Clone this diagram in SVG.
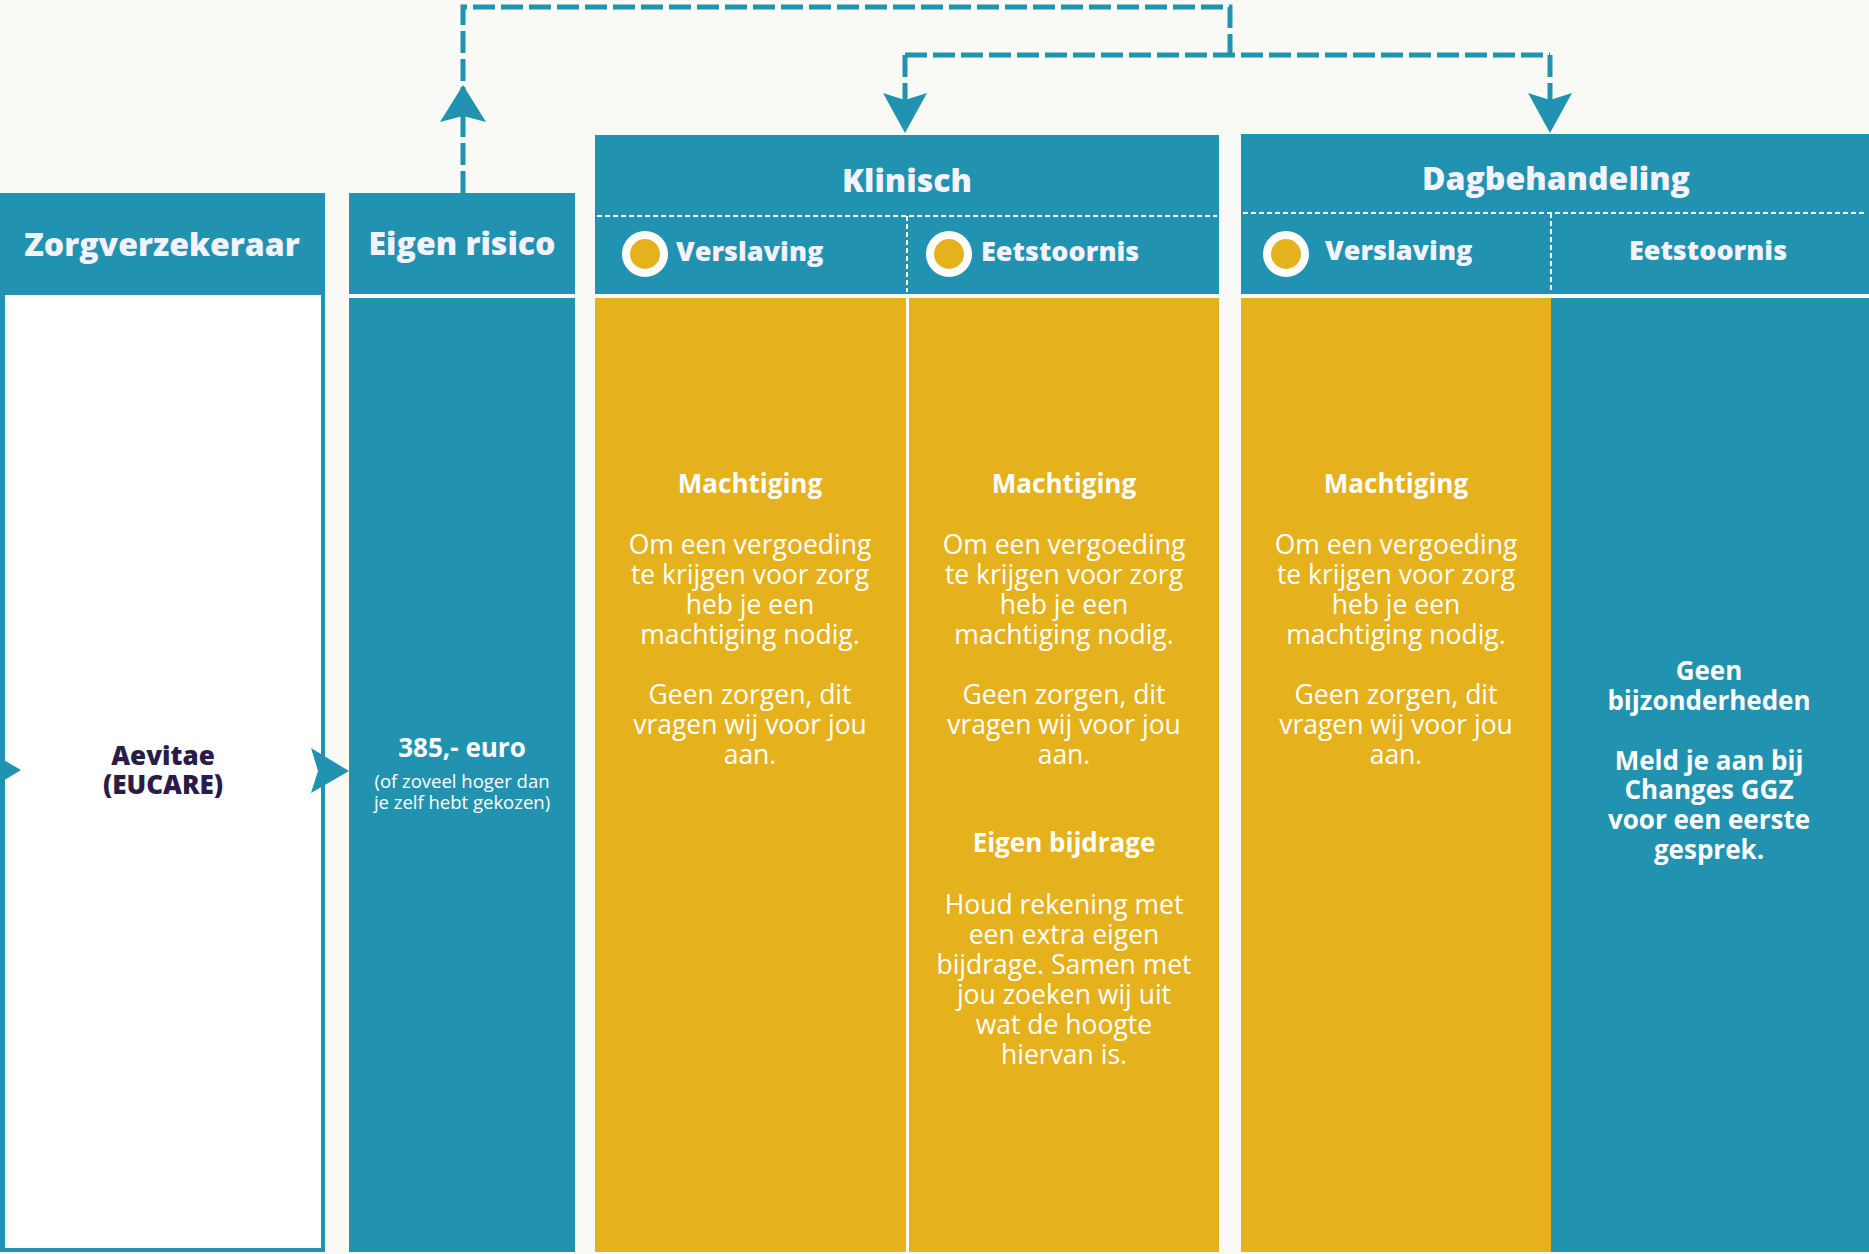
<svg xmlns="http://www.w3.org/2000/svg" width="1869" height="1254" viewBox="0 0 1869 1254">
<defs>
<style>
.bg{fill:#f9faf6}
.teal{fill:#2193b0}
.yel{fill:#e5b11d}
.hd{font-family:"Open Sans","Liberation Sans",sans-serif;font-weight:800;font-size:32px;fill:#f4f2fc;text-anchor:middle}
.sub{font-family:"Open Sans","Liberation Sans",sans-serif;font-weight:800;font-size:27px;fill:#f4f2fc}
.b{font-family:"Open Sans","Liberation Sans",sans-serif;font-weight:700;font-size:26px;fill:#ffffff;text-anchor:middle}
.r{font-family:"Open Sans","Liberation Sans",sans-serif;font-weight:400;font-size:26.5px;fill:#ffffff;text-anchor:middle}
.sm{font-family:"Open Sans","Liberation Sans",sans-serif;font-weight:400;font-size:18.5px;fill:#ffffff;text-anchor:middle}
.dk{font-family:"Open Sans","Liberation Sans",sans-serif;font-weight:800;font-size:26px;fill:#2a1b47;text-anchor:middle}
.wd{stroke:#ffffff;stroke-width:2;stroke-dasharray:5 3;fill:none}
.conn{stroke:#2193b0;stroke-width:5;stroke-dasharray:22 6;fill:none}
.dot{fill:#e5b11d;stroke:#ffffff;stroke-width:8}
</style>
</defs>
<rect class="bg" x="0" y="0" width="1869" height="1254"/>

<g id="zorgverzekeraar">
<rect class="teal" x="0" y="193" width="325" height="1059"/>
<rect x="5" y="295" width="316" height="953" fill="#ffffff"/>
<text class="hd" x="162" y="256">Zorgverzekeraar</text>
<text class="dk" x="163" y="765">Aevitae</text>
<text class="dk" x="163" y="794">(EUCARE)</text>
</g>

<g id="eigen-risico">
<rect class="teal" x="349" y="193" width="226" height="101"/>
<rect class="teal" x="349" y="298" width="226" height="954"/>
<text class="hd" x="462" y="255">Eigen risico</text>
<text class="b" x="462" y="757">385,- euro</text>
<text class="sm" x="462" y="788">(of zoveel hoger dan</text>
<text class="sm" x="462" y="809">je zelf hebt gekozen)</text>
</g>

<g id="klinisch">
<rect class="teal" x="595" y="135" width="624" height="159"/>
<line class="wd" x1="597" y1="216" x2="1217" y2="216"/>
<line class="wd" x1="907" y1="216" x2="907" y2="292"/>
<text class="hd" x="907" y="192">Klinisch</text>
<circle class="dot" cx="645" cy="254" r="19"/>
<text class="sub" x="676" y="261">Verslaving</text>
<circle class="dot" cx="949" cy="254" r="19"/>
<text class="sub" x="981" y="261">Eetstoornis</text>
</g>

<g id="klinisch-verslaving">
<rect class="yel" x="595" y="298" width="311" height="954"/>
<text class="b" x="750" y="493">Machtiging</text>
<text class="r" x="750" y="554">Om een vergoeding</text>
<text class="r" x="750" y="584">te krijgen voor zorg</text>
<text class="r" x="750" y="614">heb je een</text>
<text class="r" x="750" y="644">machtiging nodig.</text>
<text class="r" x="750" y="704">Geen zorgen, dit</text>
<text class="r" x="750" y="734">vragen wij voor jou</text>
<text class="r" x="750" y="764">aan.</text>
</g>

<g id="klinisch-eetstoornis">
<rect class="yel" x="909" y="298" width="310" height="954"/>
<text class="b" x="1064" y="493">Machtiging</text>
<text class="r" x="1064" y="554">Om een vergoeding</text>
<text class="r" x="1064" y="584">te krijgen voor zorg</text>
<text class="r" x="1064" y="614">heb je een</text>
<text class="r" x="1064" y="644">machtiging nodig.</text>
<text class="r" x="1064" y="704">Geen zorgen, dit</text>
<text class="r" x="1064" y="734">vragen wij voor jou</text>
<text class="r" x="1064" y="764">aan.</text>
<text class="b" x="1064" y="852">Eigen bijdrage</text>
<text class="r" x="1064" y="914">Houd rekening met</text>
<text class="r" x="1064" y="944">een extra eigen</text>
<text class="r" x="1064" y="974">bijdrage. Samen met</text>
<text class="r" x="1064" y="1004">jou zoeken wij uit</text>
<text class="r" x="1064" y="1034">wat de hoogte</text>
<text class="r" x="1064" y="1064">hiervan is.</text>
</g>

<g id="dagbehandeling">
<rect class="teal" x="1241" y="134" width="628" height="160"/>
<line class="wd" x1="1243" y1="213" x2="1864" y2="213"/>
<line class="wd" x1="1551" y1="213" x2="1551" y2="290"/>
<text class="hd" x="1556" y="190">Dagbehandeling</text>
<circle class="dot" cx="1286" cy="254" r="19"/>
<text class="sub" x="1325" y="260">Verslaving</text>
<text class="sub" x="1708" y="260" text-anchor="middle">Eetstoornis</text>
</g>

<g id="dag-verslaving">
<rect class="yel" x="1241" y="298" width="310" height="954"/>
<text class="b" x="1396" y="493">Machtiging</text>
<text class="r" x="1396" y="554">Om een vergoeding</text>
<text class="r" x="1396" y="584">te krijgen voor zorg</text>
<text class="r" x="1396" y="614">heb je een</text>
<text class="r" x="1396" y="644">machtiging nodig.</text>
<text class="r" x="1396" y="704">Geen zorgen, dit</text>
<text class="r" x="1396" y="734">vragen wij voor jou</text>
<text class="r" x="1396" y="764">aan.</text>
</g>

<g id="dag-eetstoornis">
<rect class="teal" x="1551" y="298" width="318" height="954"/>
<text class="b" x="1709" y="680">Geen</text>
<text class="b" x="1709" y="710">bijzonderheden</text>
<text class="b" x="1709" y="770">Meld je aan bij</text>
<text class="b" x="1709" y="799">Changes GGZ</text>
<text class="b" x="1709" y="829">voor een eerste</text>
<text class="b" x="1709" y="859">gesprek.</text>
</g>

<g id="connectors">
<path class="conn" d="M463 193 V7 H1230 V55"/>
<path class="conn" d="M905 55 H1550"/>
<path class="conn" d="M905 55 V100"/>
<path class="conn" d="M1550 55 V100"/>
<polygon fill="#2193b0" points="463,85 486,122 463,116 440,122"/>
<polygon fill="#2193b0" points="905,133 883,93 905,100 927,93"/>
<polygon fill="#2193b0" points="1550,133 1528,93 1550,100 1572,93"/>
<polygon fill="#2193b0" points="349,771 311,748 318,771 311,793"/>
<polygon fill="#2193b0" points="21,770 -17,748 -10,770 -17,793"/>
</g>
</svg>
